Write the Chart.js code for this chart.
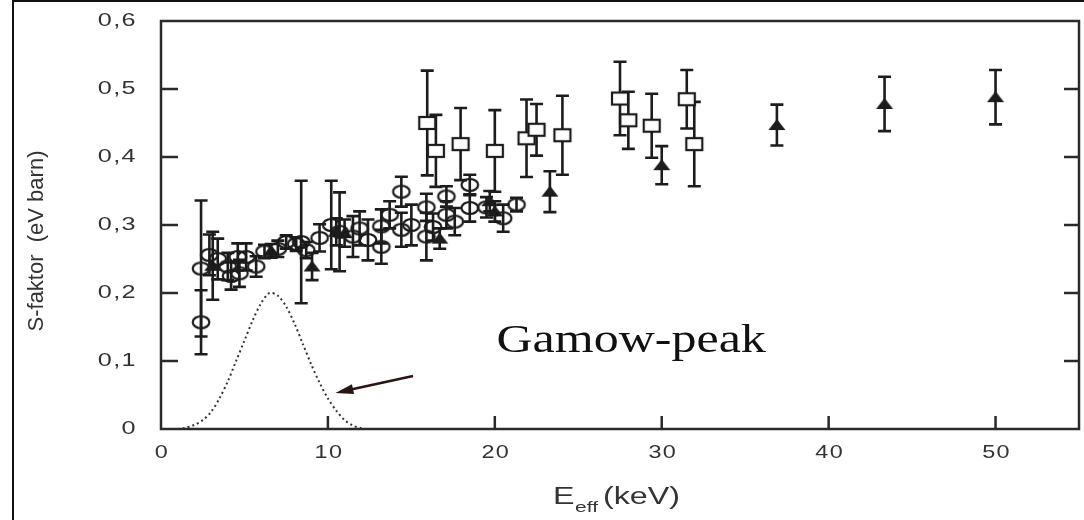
<!DOCTYPE html>
<html>
<head>
<meta charset="utf-8">
<script src="https://cdn.jsdelivr.net/npm/chart.js@4.4.1/dist/chart.umd.min.js"></script>
<style>
body { margin: 0; background: #fff; }
#wrap { position: relative; width: 1084px; height: 520px; }
</style>
</head>
<body>
<div id="wrap"><canvas id="sChart" width="1084" height="520"></canvas></div>
<script>
// open circles
var circleX = [2.4, 2.4, 2.9, 3.4, 4.0, 4.2, 4.7, 4.6, 5.1, 5.7, 6.2, 7.0, 7.5, 8.1, 8.4, 8.7, 9.5, 10.2, 10.7, 11.5, 11.9, 12.4, 13.2, 13.2, 13.7, 14.4, 14.4, 15.0, 15.9, 15.9, 16.3, 17.1, 17.1, 17.6, 18.5, 18.5, 19.5, 20.5, 21.3];
var circleY = [0.236, 0.157, 0.256, 0.25, 0.239, 0.225, 0.229, 0.253, 0.253, 0.239, 0.261, 0.265, 0.275, 0.272, 0.275, 0.263, 0.281, 0.30, 0.29, 0.283, 0.295, 0.278, 0.268, 0.298, 0.315, 0.349, 0.293, 0.30, 0.326, 0.283, 0.297, 0.342, 0.315, 0.305, 0.359, 0.325, 0.326, 0.31, 0.33];
var circleErr = [0.1, 0.047, 0.03, 0.03, 0.02, 0.02, 0.02, 0.02, 0.02, 0.015, 0.01, 0.012, 0.01, 0.01, 0.09, 0.012, 0.02, 0.065, 0.058, 0.03, 0.025, 0.03, 0.025, 0.025, 0.02, 0.022, 0.025, 0.03, 0.02, 0.035, 0.02, 0.015, 0.02, 0.02, 0.015, 0.02, 0.015, 0.02, 0.01];

// open squares
var squareX = [15.95, 16.47, 17.95, 20.0, 21.9, 22.5, 24.05, 27.5, 28.0, 29.4, 31.5, 31.95];
var squareY = [0.45, 0.409, 0.419, 0.409, 0.4275, 0.44, 0.432, 0.486, 0.454, 0.446, 0.485, 0.419];
var squareErr = [0.077, 0.053, 0.053, 0.06, 0.057, 0.038, 0.058, 0.054, 0.042, 0.047, 0.043, 0.062];

// filled triangles
var triX = [3.1, 6.6, 9.05, 10.5, 11.0, 16.7, 19.7, 20.0, 23.3, 30.0, 36.9, 43.35, 50.0];
var triY = [0.24, 0.262, 0.239, 0.29, 0.288, 0.28, 0.335, 0.32, 0.349, 0.388, 0.447, 0.478, 0.488];
var triErr = [0.05, 0.01, 0.02, 0.02, 0.02, 0.015, 0.015, 0.015, 0.03, 0.028, 0.03, 0.04, 0.04];

// gamow peak (dotted)
var gamowX = [1, 1.5, 2, 2.5, 3, 3.5, 4, 4.5, 5, 5.5, 6, 6.5, 7, 7.5, 8, 8.5, 9, 9.5, 10, 10.5, 11, 11.5, 12];
var gamowY = [0, 0.002, 0.006, 0.013, 0.025, 0.045, 0.07, 0.1, 0.13, 0.16, 0.185, 0.2, 0.196, 0.18, 0.155, 0.125, 0.095, 0.068, 0.045, 0.027, 0.013, 0.005, 0.001];

var xTicks = [0, 10, 20, 30, 40, 50];
var xTickLabels = ["0", "10", "20", "30", "40", "50"];
var yTicks = [0, 0.1, 0.2, 0.3, 0.4, 0.5, 0.6];
var yTickLabels = ["0", "0,1", "0,2", "0,3", "0,4", "0,5", "0,6"];

var ink = "#1c1c1c";

function pts(xs, ys) {
	var out = [];
	for (var i = 0; i < xs.length; ++i) out.push({x: xs[i], y: ys[i]});
	return out;
}

function markImg(kind) {
	var c = document.createElement("canvas");
	c.width = 22; c.height = 18;
	var g = c.getContext("2d");
	g.strokeStyle = ink; g.fillStyle = ink; g.lineWidth = 2.2;
	if (kind == "circle") {
		g.beginPath(); g.ellipse(11, 9, 8.3, 6, 0, 0, Math.PI * 2); g.stroke();
	} else if (kind == "square") {
		g.fillStyle = "#fff";
		g.fillRect(3, 3, 16, 12);
		g.strokeRect(3, 3, 16, 12);
	} else {
		g.beginPath(); g.moveTo(11, 3); g.lineTo(19.5, 14); g.lineTo(2.5, 14); g.closePath(); g.fill();
	}
	return c;
}

var errorBars = {
	id: "errorBars",
	beforeDatasetsDraw: function(chart) {
		var ctx = chart.ctx, xs = chart.scales.x, ys = chart.scales.y;
		ctx.save();
		ctx.strokeStyle = ink;
		ctx.lineWidth = 2.6;
		chart.data.datasets.forEach(function(ds) {
			if (!ds.errors) return;
			ds.data.forEach(function(p, i) {
				var px = xs.getPixelForValue(p.x);
				var top = ys.getPixelForValue(p.y + ds.errors[i]);
				var bot = ys.getPixelForValue(p.y - ds.errors[i]);
				ctx.beginPath();
				ctx.moveTo(px, top); ctx.lineTo(px, bot);
				ctx.moveTo(px - 6.5, top); ctx.lineTo(px + 6.5, top);
				ctx.moveTo(px - 6.5, bot); ctx.lineTo(px + 6.5, bot);
				ctx.stroke();
			});
		});
		ctx.restore();
	}
};

function stretchText(ctx, txt, x, y, sx, align) {
	ctx.save();
	ctx.translate(x, y);
	ctx.scale(sx, 1);
	ctx.textAlign = align;
	ctx.fillText(txt, 0, 0);
	ctx.restore();
}

var frame = {
	id: "frame",
	afterDraw: function(chart) {
		var ctx = chart.ctx, xs = chart.scales.x, ys = chart.scales.y, a = chart.chartArea;
		ctx.save();
		// outer picture border
		ctx.strokeStyle = "#111";
		ctx.lineWidth = 2;
		ctx.beginPath();
		ctx.moveTo(13, 520); ctx.lineTo(13, 1); ctx.lineTo(1084, 1);
		ctx.stroke();

		// plot box and ticks
		ctx.strokeStyle = "#2a2a2a";
		ctx.lineWidth = 2.5;
		ctx.strokeRect(a.left, a.top, a.right - a.left, a.bottom - a.top);
		ctx.beginPath();
		yTicks.forEach(function(v) {
			if (v == 0 || v == 0.6) return;
			var py = ys.getPixelForValue(v);
			ctx.moveTo(a.left, py); ctx.lineTo(a.left + 17, py);
			ctx.moveTo(a.right, py); ctx.lineTo(a.right - 15, py);
		});
		xTicks.forEach(function(v) {
			if (v == 0) return;
			var px = xs.getPixelForValue(v);
			ctx.moveTo(px, a.bottom); ctx.lineTo(px, a.bottom - 13);
		});
		ctx.stroke();

		// tick labels
		ctx.fillStyle = "#333";
		ctx.font = "18px 'Liberation Sans', Arial, sans-serif";
		ctx.textBaseline = "middle";
		ctx.letterSpacing = "1px";
		yTicks.forEach(function(v, i) {
			stretchText(ctx, yTickLabels[i], 137, ys.getPixelForValue(v), 1.4, "right");
		});
		xTicks.forEach(function(v, i) {
			stretchText(ctx, xTickLabels[i], xs.getPixelForValue(v) + 1, 453, 1.3, "center");
		});
		ctx.letterSpacing = "0px";

		// y title
		ctx.save();
		ctx.translate(37, 241);
		ctx.rotate(-Math.PI / 2);
		ctx.textAlign = "center";
		ctx.font = "22px 'Liberation Sans', Arial, sans-serif";
		ctx.fillText("S-faktor  (eV barn)", 0, 0);
		ctx.restore();

		// x title E_eff (keV)
		ctx.textBaseline = "alphabetic";
		ctx.font = "23px 'Liberation Sans', Arial, sans-serif";
		stretchText(ctx, "E", 553, 504, 1.4, "left");
		ctx.font = "15px 'Liberation Sans', Arial, sans-serif";
		stretchText(ctx, "eff", 575, 512, 1.4, "left");
		ctx.font = "23px 'Liberation Sans', Arial, sans-serif";
		stretchText(ctx, "(keV)", 603, 504, 1.4, "left");

		// Gamow-peak label and arrow
		ctx.fillStyle = "#111";
		ctx.font = "40px 'Liberation Serif', 'Times New Roman', serif";
		stretchText(ctx, "Gamow-peak", xs.getPixelForValue(20.1), ys.getPixelForValue(0.113), 1.25, "left");

		var x0 = xs.getPixelForValue(15.1), y0 = ys.getPixelForValue(0.078);
		var x1 = xs.getPixelForValue(10.45), y1 = ys.getPixelForValue(0.053);
		var ang = Math.atan2(y1 - y0, x1 - x0);
		ctx.strokeStyle = "#2a1515";
		ctx.fillStyle = "#2a1515";
		ctx.lineWidth = 2.5;
		ctx.beginPath();
		ctx.moveTo(x0, y0);
		ctx.lineTo(x1 - 10 * Math.cos(ang), y1 - 10 * Math.sin(ang));
		ctx.stroke();
		ctx.beginPath();
		ctx.moveTo(x1, y1);
		ctx.lineTo(x1 - 18 * Math.cos(ang) + 5 * Math.sin(ang), y1 - 18 * Math.sin(ang) - 5 * Math.cos(ang));
		ctx.lineTo(x1 - 18 * Math.cos(ang) - 5 * Math.sin(ang), y1 - 18 * Math.sin(ang) + 5 * Math.cos(ang));
		ctx.closePath();
		ctx.fill();
		ctx.restore();
	}
};

var config = {
	type: "scatter",
	data: {
		datasets: [{
			label: "Gamow",
			data: pts(gamowX, gamowY),
			showLine: true,
			borderColor: "#333",
			borderWidth: 2,
			borderDash: [2, 3],
			pointRadius: 0,
			tension: 0.3
		}, {
			label: "circles",
			data: pts(circleX, circleY),
			errors: circleErr,
			pointStyle: markImg("circle")
		}, {
			label: "squares",
			data: pts(squareX, squareY),
			errors: squareErr,
			pointStyle: markImg("square")
		}, {
			label: "triangles",
			data: pts(triX, triY),
			errors: triErr,
			pointStyle: markImg("triangle")
		}]
	},
	options: {
		responsive: false,
		animation: false,
		devicePixelRatio: 1,
		layout: {autoPadding: false, padding: {top: 21, right: 5, left: 0, bottom: 0}},
		plugins: {legend: {display: false}, tooltip: {enabled: false}},
		scales: {
			x: {
				type: "linear", min: 0, max: 55,
				grid: {display: false, drawTicks: false}, border: {display: false},
				ticks: {display: false},
				afterFit: function(s) { s.height = 91; }
			},
			y: {
				type: "linear", min: 0, max: 0.6,
				grid: {display: false, drawTicks: false}, border: {display: false},
				ticks: {display: false},
				afterFit: function(s) { s.width = 161; }
			}
		}
	},
	plugins: [errorBars, frame]
};

const sChart = new Chart(document.getElementById("sChart"), config);
</script>
</body>
</html>
